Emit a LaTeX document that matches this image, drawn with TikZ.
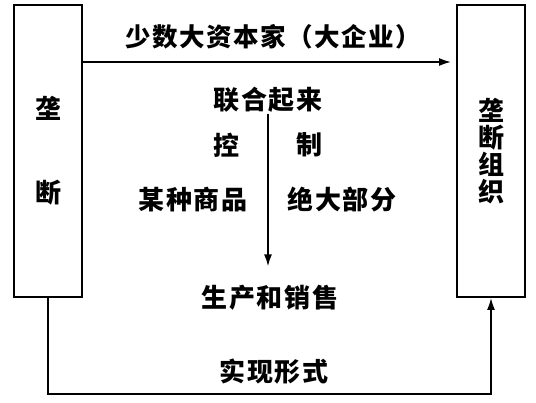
\documentclass[tikz,border=0pt]{standalone}
\usepackage{fontspec}
\usetikzlibrary{arrows.meta}
\newfontfamily\cjk{Noto Sans CJK SC}
\newfontfamily\cjkwide{Noto Sans CJK SC}[LetterSpace=6]
\def\cjksize{\fontsize{26}{27}\selectfont}

\begin{document}
\begin{tikzpicture}[x=1pt,y=-1pt,line width=1.8pt,
    box/.style={draw,minimum width=68pt,minimum height=292pt,inner sep=0pt,
      align=center,font=\cjk\bfseries\cjksize},
    txt/.style={inner sep=0pt,font=\cjk\bfseries\cjksize},
    wide/.style={inner sep=0pt,font=\cjkwide\bfseries\cjksize},
    >={Latex[length=12pt,width=8pt]}]
  \useasboundingbox (0,0) rectangle (536,403);
  % the two boxes
  \node[box] (mono) at (48,151) {垄\\[57pt]断};
  \node[box] (org) at (491,151) {垄\\断\\组\\织};
  % texts in between
  \node[wide,font=\cjkwide\bfseries\fontsize{25.5}{27}\selectfont] (few) at (273,37)
    {少数大资本家（大企业）};
  \node[wide] (unite) at (268,100) {联合起来};
  \node[txt] (ctrlA) at (226,145) {控};
  \node[txt] (ctrlB) at (309,145) {制};
  \node[wide] (goods) at (193,200) {某种商品};
  \node[wide] (most) at (342,200) {绝大部分};
  \node[wide] (prod) at (270,298) {生产和销售};
  \node[wide] (form) at (274,372) {实现形式};
  % connectors
  \coordinate (join) at (267,62);
  \draw[->,shorten >=5pt] (join -| mono.east) -- (join -| org.west);
  \draw[->,shorten >=18pt] (unite.south) -- (unite.south |- prod.north);
  \draw[->] (mono.south) -- ++(0,96) -| (org.south);
\end{tikzpicture}
\end{document}
